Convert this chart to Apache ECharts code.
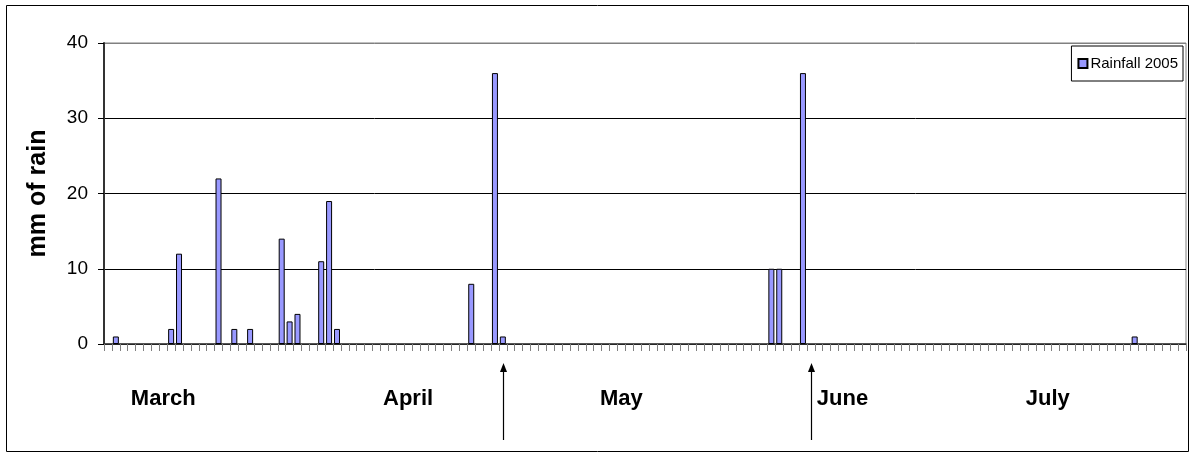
<!DOCTYPE html>
<html lang="en">
<head>
<meta charset="UTF-8">
<title>Rainfall 2005</title>
<script src="https://cdn.jsdelivr.net/npm/echarts@6/dist/echarts.min.js"></script>
<style>html,body{margin:0;padding:0;background:#fff;}</style>
</head>
<body>
<div id="main" style="width:1192px;height:456px;"></div>
<script type="text/javascript">
// one category per day, 1 March .. 15 July 2005
var monthShort = ['Mar', 'Apr', 'May', 'Jun', 'Jul'];
var monthLength = [31, 30, 31, 30, 15];
var days = [];
monthLength.forEach(function (n, m) {
    for (var d = 1; d <= n; d++) days.push(d + ' ' + monthShort[m]);
});

// mm of rain per day
var rainfall = [
    0, 1, 0, 0, 0, 0, 0, 0, 2, 12,
    0, 0, 0, 0, 22, 0, 2, 0, 2, 0,
    0, 0, 14, 3, 4, 0, 0, 11, 19, 2,
    0, 0, 0, 0, 0, 0, 0, 0, 0, 0,
    0, 0, 0, 0, 0, 0, 8, 0, 0, 36,
    1, 0, 0, 0, 0, 0, 0, 0, 0, 0,
    0, 0, 0, 0, 0, 0, 0, 0, 0, 0,
    0, 0, 0, 0, 0, 0, 0, 0, 0, 0,
    0, 0, 0, 0, 10, 10, 0, 0, 36, 0,
    0, 0, 0, 0, 0, 0, 0, 0, 0, 0,
    0, 0, 0, 0, 0, 0, 0, 0, 0, 0,
    0, 0, 0, 0, 0, 0, 0, 0, 0, 0,
    0, 0, 0, 0, 0, 0, 0, 0, 0, 0,
    1, 0, 0, 0, 0, 0, 0
];

// month captions under the axis and the day they sit on
var monthNames = ['March', 'April', 'May', 'June', 'July'];
var monthLabelDay = [7, 38, 65, 93, 119];
// days marked with an arrow
var arrowDays = [50, 89];

var font = 'Arial, "Liberation Sans", sans-serif';
var myChart = echarts.init(document.getElementById('main'));

myChart.setOption({
    animation: false,
    textStyle: { fontFamily: font },
    grid: {
        left: 104, right: 6, top: 43, bottom: 112,
        show: true, borderColor: '#808080', borderWidth: 1
    },
    legend: {
        right: 9, top: 46,
        data: ['Rainfall 2005'],
        icon: 'rect',
        itemWidth: 9, itemHeight: 9, itemGap: 5,
        borderColor: '#000', borderWidth: 1,
        padding: [10, 5, 10, 6],
        textStyle: { fontSize: 15, color: '#000', fontFamily: font, padding: [0, 0, 0, -2] }
    },
    xAxis: {
        type: 'category',
        data: days,
        boundaryGap: true,
        axisLine: { lineStyle: { color: '#333', width: 1.5 } },
        axisTick: { show: true, interval: 0, length: 7, lineStyle: { color: '#808080' } },
        axisLabel: { show: false },
        splitLine: { show: false }
    },
    yAxis: {
        type: 'value',
        min: 0, max: 40, interval: 10,
        name: 'mm of rain',
        nameLocation: 'middle',
        nameRotate: 90,
        nameGap: 53,
        nameTextStyle: { fontSize: 25, fontWeight: 'bold', color: '#000', fontFamily: font },
        axisLine: { show: true, lineStyle: { color: '#333', width: 2 } },
        axisTick: { show: true, length: 6, lineStyle: { color: '#000' } },
        axisLabel: { fontSize: 19, color: '#000', margin: 16, fontFamily: font },
        splitLine: { lineStyle: { color: ['#000', '#000', '#000', '#000', '#808080'] } }
    },
    series: [{
        name: 'Rainfall 2005',
        type: 'bar',
        barWidth: 6,
        data: rainfall.map(function (v) { return v === 0 ? null : v; }),
        itemStyle: { color: '#9999FF', borderColor: '#000', borderWidth: 1 }
    }]
});

// captions and arrows positioned through the category axis
var graphics = [{
    type: 'rect',
    shape: { x: 6.5, y: 5.5, width: 1182, height: 446 },
    style: { fill: 'none', stroke: '#000', lineWidth: 1 },
    silent: true
}];
monthNames.forEach(function (name, i) {
    var x = myChart.convertToPixel({ xAxisIndex: 0 }, monthLabelDay[i]);
    graphics.push({
        type: 'text',
        x: x, y: 399,
        style: {
            text: name, fill: '#000',
            font: 'bold 22px ' + font,
            align: 'center', verticalAlign: 'middle'
        }
    });
});
arrowDays.forEach(function (d) {
    var x = Math.round(myChart.convertToPixel({ xAxisIndex: 0 }, d)) + 0.5;
    graphics.push({
        type: 'line',
        shape: { x1: x, y1: 370, x2: x, y2: 440 },
        style: { stroke: '#000', lineWidth: 1.2 }
    });
    graphics.push({
        type: 'polygon',
        shape: { points: [[x, 363], [x - 3.5, 372], [x + 3.5, 372]] },
        style: { fill: '#000' }
    });
});
myChart.setOption({ graphic: graphics });
</script>
</body>
</html>
